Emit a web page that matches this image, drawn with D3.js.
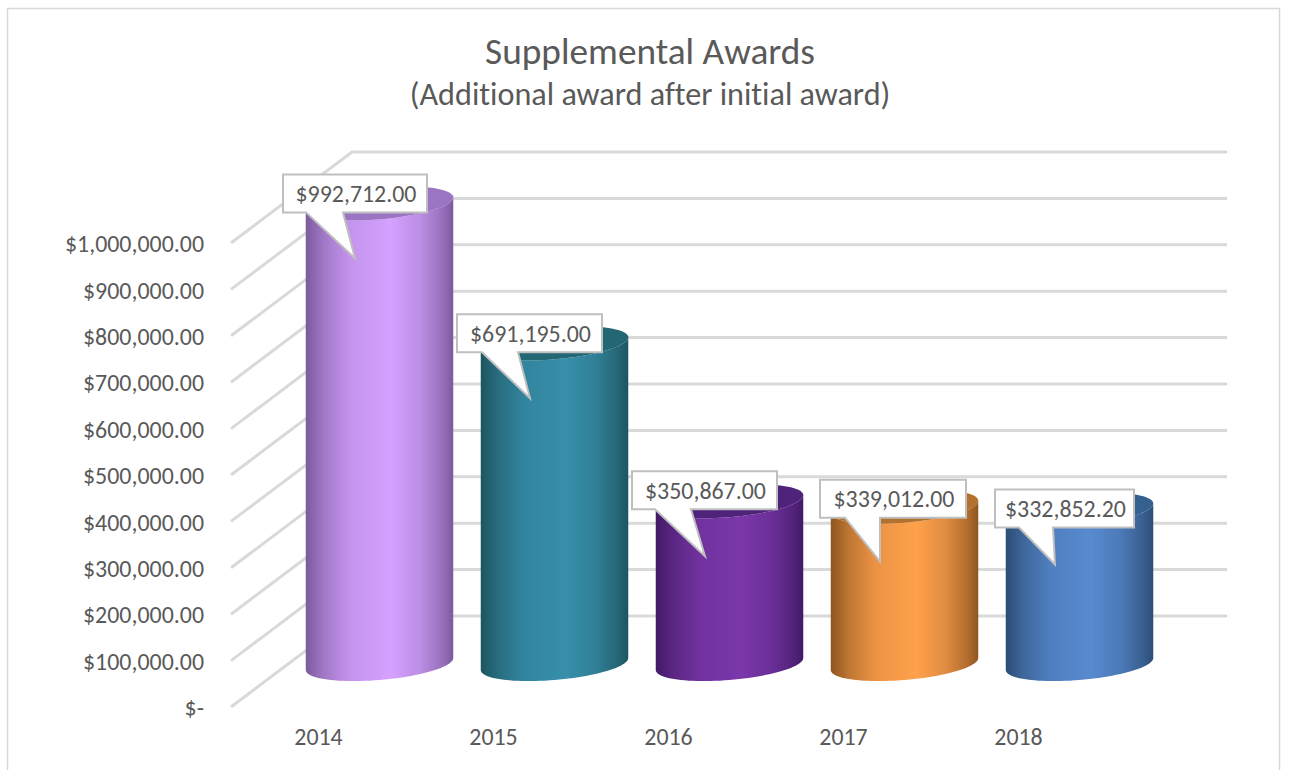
<!DOCTYPE html>
<html><head><meta charset="utf-8">
<script src="https://cdn.jsdelivr.net/npm/d3@7"></script>
<style>html,body{margin:0;background:#fff}svg{display:block}text{font-family:Carlito,Lato,"Open Sans",sans-serif;fill:#595959;font-variant-ligatures:none}</style>
</head><body><svg id="c" width="1294" height="770"></svg>
<script>
const years = ["2014","2015","2016","2017","2018"];
const awards = [992712.00,691195.00,350867.00,339012.00,332852.20];
const labels = ["$992,712.00","$691,195.00","$350,867.00","$339,012.00","$332,852.20"];
const yTicks = [0,100000,200000,300000,400000,500000,600000,700000,800000,900000,1000000];
const sideColors = [["#7b5a9c","#d4a1ff"],["#1d5560","#378fab"],["#421a66","#7b37ab"],["#8f5520","#ffa14c"],["#2c4d75","#588ad0"]];
const capColors = ["#9c74c4","#236674","#4e2379","#b3702f","#35608f"];
// callout box placement relative to the tip: left, bottom-above, width, base start, base end
const calloutLayout = [[-72,46,144,-49,-12],[-73,46,145,-48,-12],[-73,47,145,-50,-14],[-60,44,146,-35,0],[-60,37,139,-36,-2]];

const svg = d3.select("#c");
const depthX=121, depthY=-91;
const x = d3.scaleBand().domain(years).range([231,1106]);
const y = d3.scaleLinear().domain([0,1000000]).range([707,243]);
const barW = 147.5, skew=-6, q=16;
const cxOf = d => x(d)+x.bandwidth()/2+61;
const baseY = 664;

const defs = svg.append("defs");
years.forEach((yr,i)=>{
  const [dk,lt]=sideColors[i];
  const g=defs.append("linearGradient").attr("id","g"+i).attr("x1",0).attr("x2",1).attr("y1",0).attr("y2",0);
  const mix=d3.interpolateRgb(dk,lt);
  [[0,0],[.12,.42],[.3,.82],[.58,1],[.78,.72],[.93,.3],[1,0]].forEach(([o,k])=>g.append("stop").attr("offset",o).attr("stop-color",mix(k)));
});

// frame
svg.append("path").attr("d",`M7.5 770V8.5H1279.5V770`).attr("fill","none").attr("stroke","#d9d9d9").attr("stroke-width",1.5);

// title
svg.append("text").attr("x",650).attr("y",64).attr("text-anchor","middle").attr("font-size",37.3).text("Supplemental Awards");
svg.append("text").attr("x",650).attr("y",105).attr("text-anchor","middle").attr("font-size",32.2).text("(Additional award after initial award)");

// walls
const grid=svg.append("g");
yTicks.forEach(t=>{
  const py=y(t);
  grid.append("path").attr("d",d3.line()([[x.range()[0],py],[x.range()[0]+depthX,py+depthY],[x.range()[1]+depthX,py+depthY]]))
    .attr("fill","none").attr("stroke","#d9d9d9").attr("stroke-width",3);
});

// axes
const yAxis=d3.axisLeft(y).tickValues(yTicks).tickSize(0).tickPadding(0).tickFormat(v=>v===0?"$-":d3.format("$,.2f")(v));
const ya=svg.append("g").attr("transform","translate(204,1)").call(yAxis);
ya.select(".domain").remove();
ya.selectAll("text").attr("font-size",23.9).style("font-family","Carlito,Lato,sans-serif");
const xa=svg.append("g").attr("transform","translate(0,737)").call(d3.axisBottom(x).tickSize(0).tickPadding(0));
xa.select(".domain").remove();
xa.selectAll("text").attr("font-size",23.9).attr("dy",".35em").attr("y",0).style("font-family","Carlito,Lato,sans-serif");

// cylinders
const ts=d3.range(0,Math.PI+1e-6,Math.PI/48);
const pt=(cx,cy,t)=>[cx+barW/2*Math.cos(t),cy+skew*Math.cos(t)+q*Math.sin(t)];
const line=d3.line();
const bars=svg.append("g");
years.forEach((yr,i)=>{
  const cx=cxOf(yr), h=y(0)-y(awards[i]), top=baseY-h;
  const lower=ts.map(t=>pt(cx,baseY,t));
  const upper=ts.map(t=>pt(cx,top,t)).reverse();
  bars.append("path").attr("d",line(lower)+"L"+line(upper).slice(1)+"Z").attr("fill",`url(#g${i})`);
  const cap=d3.range(0,2*Math.PI,Math.PI/48).map(t=>pt(cx,top,t));
  bars.append("path").attr("d",line(cap)+"Z").attr("fill",capColors[i]);
});

// callouts
const call=svg.append("g");
years.forEach((yr,i)=>{
  const cx=cxOf(yr), top=baseY-(y(0)-y(awards[i]));
  const tx=cx-24.5, ty=top+55;
  const [l,b,w,s,e]=calloutLayout[i];
  const bx=tx+l, by=ty-b, bh=38;
  const pts=[[bx,by-bh],[bx+w,by-bh],[bx+w,by],[tx+e,by],[tx,ty],[tx+s,by],[bx,by]];
  call.append("path").attr("d",line(pts)+"Z").attr("fill","#fff").attr("stroke","#bfbfbf").attr("stroke-width",2).attr("stroke-linejoin","miter");
  call.append("text").attr("x",bx+w/2+1).attr("y",by-bh/2).attr("dy",".35em").attr("text-anchor","middle").attr("font-size",23.9).text(labels[i]);
});
</script></body></html>
